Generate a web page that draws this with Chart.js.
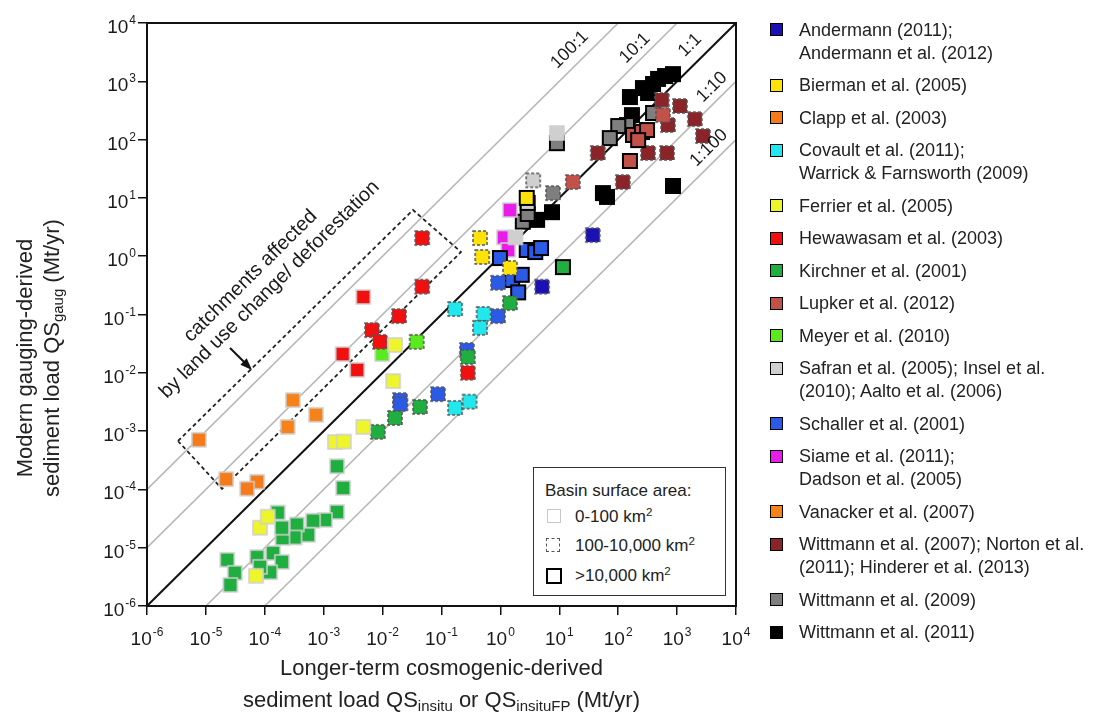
<!DOCTYPE html>
<html>
<head>
<meta charset="utf-8">
<script src="https://cdn.jsdelivr.net/npm/chart.js@4.4.1/dist/chart.umd.min.js"></script>
<style>
  body { margin: 0; background: #fff; font-family: "Liberation Sans", Arial, sans-serif; color: #222; }
  #wrap { position: relative; width: 1102px; height: 718px; overflow: hidden; }
  canvas { position: absolute; left: 0; top: 0; }
  sub { font-size: 0.68em; vertical-align: -0.3em; line-height: 0; }
  sup { font-size: 0.68em; vertical-align: 0.55em; line-height: 0; }
  .xt { position: absolute; left: 147px; width: 589px; top: 652px; text-align: center; font-size: 22px; line-height: 32px; }
  .yt { position: absolute; left: -212px; top: 331px; width: 500px; height: 54px; text-align: center;
        font-size: 22px; line-height: 27px; transform: rotate(-90deg); }
  #legend { position: absolute; left: 770px; top: 18.5px; font-size: 18px; line-height: 23px; }
  #legend .row { display: flex; margin-bottom: 9.5px; }
  #legend .sw { width: 11px; height: 11px; border: 1.5px solid #000; margin-top: 4.5px; margin-right: 16px; flex: none; }
  #basin { position: absolute; left: 533px; top: 467px; width: 191px; height: 127px; border: 1.5px solid #333;
           background: #fff; font-size: 17px; line-height: 24px; }
  #basin div { position: absolute; }
  #basin .sq { width: 12px; height: 12px; background: #fff; }
</style>
</head>
<body>
<div id="wrap">
  <canvas id="chart" width="1102" height="718"></canvas>
  <div class="xt">Longer-term cosmogenic-derived<br>sediment load QS<sub>insitu</sub> or QS<sub>insituFP</sub> (Mt/yr)</div>
  <div class="yt">Modern gauging-derived<br>sediment load QS<sub>gaug</sub> (Mt/yr)</div>
  <div id="legend"></div>
  <div id="basin">
    <div style="left:11px;top:11px">Basin surface area:</div>
    <div class="sq" style="left:13px;top:41px;border:1.5px solid #c8c8c8"></div>
    <div style="left:41px;top:37px">0-100 km<sup>2</sup></div>
    <div class="sq" style="left:12px;top:70px;border:1.5px dashed #555"></div>
    <div style="left:41px;top:66px">100-10,000 km<sup>2</sup></div>
    <div class="sq" style="left:12px;top:100px;border:2px solid #000"></div>
    <div style="left:41px;top:96px">&gt;10,000 km<sup>2</sup></div>
  </div>
</div>
<script>
// axis ticks (powers of ten) and reference ratio lines
const tickPowers = [-6, -5, -4, -3, -2, -1, 0, 1, 2, 3, 4];
const ratios = [100, 10, 1, 0.1, 0.01];
const ratioLabels = ["100:1", "10:1", "1:1", "1:10", "1:100"];

// points: [cosmogenic QS, gauged QS, basin class (0: 0-100, 1: 100-10,000, 2: >10,000 km2)]
const andermann = [[37, 2.3, 1], [5.1, 0.30, 1]];
const bierman = [[0.45, 2.05, 1], [0.49, 0.97, 1], [2.8, 10, 2], [1.45, 0.63, 1]];
const clapp = [[7.6e-6, 7.1e-4, 0], [2.2e-5, 1.5e-4, 0], [7.4e-5, 1.35e-4, 0], [5.0e-5, 1.03e-4, 0]];
const covault = [[0.17, 0.124, 1], [0.52, 0.102, 1], [0.45, 0.059, 1], [0.17, 0.0025, 1], [0.30, 0.0032, 1]];
const ferrier = [[0.0162, 0.030, 0], [0.0151, 0.0072, 0], [0.0047, 0.00118, 0], [0.00155, 6.5e-4, 0],
  [0.0022, 6.6e-4, 0], [8.3e-5, 2.2e-5, 0], [1.12e-4, 3.4e-5, 0], [7.1e-5, 3.3e-6, 0]];
const hewawasam = [[0.047, 2.05, 1], [0.047, 0.30, 1], [0.0047, 0.20, 0], [0.019, 0.094, 1], [0.0066, 0.054, 1],
  [0.009, 0.034, 1], [0.0021, 0.021, 0], [0.0037, 0.0112, 0], [0.28, 0.0100, 1]];
const kirchner = [[11.5, 0.65, 2], [1.45, 0.157, 1], [0.28, 0.0187, 1], [0.043, 0.0026, 1], [0.0162, 0.00168, 1],
  [0.0083, 0.00097, 1], [0.00168, 2.5e-4, 0], [0.00214, 1.06e-4, 0], [0.00168, 4.1e-5, 0], [0.00105, 3.0e-5, 0],
  [6.6e-4, 2.9e-5, 0], [5.4e-4, 1.66e-5, 0], [3.5e-4, 2.5e-5, 0], [3.2e-4, 1.5e-5, 0], [2.0e-4, 1.47e-5, 0],
  [1.66e-4, 4.0e-5, 0], [1.95e-4, 2.2e-5, 0], [1.38e-4, 8.1e-6, 0], [1.95e-4, 5.7e-6, 0], [1.23e-4, 3.8e-6, 0],
  [7.4e-5, 6.9e-6, 0], [8.3e-5, 4.7e-6, 0], [2.3e-5, 6.2e-6, 0], [3.1e-5, 3.7e-6, 0], [2.6e-5, 2.3e-6, 0]];
const lupker = [[178, 120, 2], [253, 135, 2], [309, 146, 2], [218, 98, 2], [158, 43, 2], [17, 18.7, 1], [575, 263, 1]];
const meyer = [[0.038, 0.034, 1], [0.0098, 0.021, 0]];
const safran = [[9.1, 130, 0], [3.6, 20, 1], [2.9, 8.2, 2], [1.8, 2.1, 0]];
const schaller = [[2.8, 1.28, 2], [3.9, 1.18, 2], [4.9, 1.38, 2], [0.98, 0.93, 2], [1.58, 0.39, 2], [2.3, 0.48, 2],
  [2.0, 0.24, 2], [0.91, 0.35, 1], [0.91, 0.094, 1], [0.27, 0.0246, 1], [0.087, 0.0043, 1], [0.0197, 0.0034, 1],
  [0.02, 0.0029, 1]];
const siame = [[1.45, 6.2, 0], [1.15, 2.1, 0], [1.35, 1.28, 0]];
const vanacker = [[3.0e-4, 0.0034, 0], [7.4e-4, 0.0019, 0], [2.45e-4, 0.00118, 0]];
const wittmann2007 = [[550, 480, 1], [1120, 377, 1], [2000, 225, 1], [2750, 115, 1], [45, 59, 1], [321, 59, 1],
  [675, 59, 1], [120, 18.7, 1], [700, 178, 1]];
const wittmann2009 = [[390, 286, 2], [141, 178, 2], [100, 171, 2], [72, 106, 2], [9.1, 87, 2], [7.8, 12.1, 1],
  [2.4, 3.9, 2], [2.9, 5.3, 2]];
const wittmann2011 = [[850, 1330, 2], [624, 1230, 2], [474, 1100, 2], [390, 900, 2], [263, 767, 2], [321, 631, 2],
  [158, 537, 2], [171, 263, 2], [55, 12.1, 2], [64.5, 10.4, 2], [7.5, 5.7, 2], [4.2, 4.2, 2], [850, 16, 2]];

// catchments affected by land use change (polygon corners, data units)
const regionCorners = [[3.36e-6, 6.76e-4], [0.0328, 6.2], [0.214, 1.18], [1.88e-5, 1.02e-4]];

const studies = [
  { name: "Andermann (2011);<br>Andermann et al. (2012)", color: "#1a10b4", pts: andermann },
  { name: "Bierman et al. (2005)", color: "#ffe20a", pts: bierman },
  { name: "Clapp et al. (2003)", color: "#f47a1a", pts: clapp },
  { name: "Covault et al. (2011);<br>Warrick &amp; Farnsworth (2009)", color: "#22e8ee", pts: covault },
  { name: "Ferrier et al. (2005)", color: "#eef52a", pts: ferrier },
  { name: "Hewawasam et al. (2003)", color: "#f01010", pts: hewawasam },
  { name: "Kirchner et al. (2001)", color: "#1fae3f", pts: kirchner },
  { name: "Lupker et al. (2012)", color: "#c4504a", pts: lupker },
  { name: "Meyer et al. (2010)", color: "#5aeb1e", pts: meyer },
  { name: "Safran et al. (2005); Insel et al.<br>(2010); Aalto et al. (2006)", color: "#cfcfcf", pts: safran },
  { name: "Schaller et al. (2001)", color: "#2b5ae6", pts: schaller },
  { name: "Siame et al. (2011);<br>Dadson et al. (2005)", color: "#e81ee8", pts: siame },
  { name: "Vanacker et al. (2007)", color: "#f7821a", pts: vanacker },
  { name: "Wittmann et al. (2007); Norton et al.<br>(2011); Hinderer et al. (2013)", color: "#8a2428", pts: wittmann2007 },
  { name: "Wittmann et al. (2009)", color: "#7f7f7f", pts: wittmann2009 },
  { name: "Wittmann et al. (2011)", color: "#000000", pts: wittmann2011 }
];

// square marker images, one per colour and border kind
const iconCache = {};
function icon(color, kind) {
  const key = color + kind;
  if (iconCache[key]) return iconCache[key];
  const c = document.createElement("canvas");
  c.width = 18; c.height = 18;
  const g = c.getContext("2d");
  g.fillStyle = color;
  g.fillRect(2, 2, 14, 14);
  if (kind === 0) { g.strokeStyle = "#cfcfcf"; g.lineWidth = 1.5; }
  else if (kind === 1) { g.strokeStyle = "#555"; g.lineWidth = 1.5; g.setLineDash([3, 2]); }
  else { g.strokeStyle = "#000"; g.lineWidth = 2; }
  g.strokeRect(2, 2, 14, 14);
  iconCache[key] = c;
  return c;
}

// html legend
const legend = document.getElementById("legend");
studies.forEach(s => {
  const row = document.createElement("div");
  row.className = "row";
  row.innerHTML = '<div class="sw" style="background:' + s.color + '"></div><div>' + s.name + "</div>";
  legend.appendChild(row);
});

const pointSets = studies.map(s => ({
  label: s.name,
  data: s.pts.map(p => ({ x: p[0], y: p[1] })),
  pointStyle: c => { const p = s.pts[c.dataIndex]; return icon(s.color, p ? p[2] : 2); },
  pointRadius: 7,
  order: 0
}));

const lineSets = ratios.map(r => {
  const x0 = Math.max(1e-6, 1e-6 / r), x1 = Math.min(1e4, 1e4 / r);
  return {
    type: "line",
    data: [{ x: x0, y: r * x0 }, { x: x1, y: r * x1 }],
    borderColor: r === 1 ? "#111" : "#b8b8b8",
    borderWidth: r === 1 ? 2 : 1.6,
    pointRadius: 0, showLine: true, fill: false,
    order: 2
  };
});

const regionSet = {
  type: "line",
  data: regionCorners.concat([regionCorners[0]]).map(p => ({ x: p[0], y: p[1] })),
  borderColor: "#222", borderWidth: 1.8, borderDash: [4, 3],
  pointRadius: 0, showLine: true, fill: false, tension: 0,
  order: 1
};

const FONT = '"Liberation Sans", Arial, sans-serif';

function drawPow(ctx, exp, x, base, align) {
  ctx.font = "19px " + FONT;
  const w1 = ctx.measureText("10").width;
  ctx.font = "12px " + FONT;
  const w2 = ctx.measureText(exp).width;
  const total = w1 + 1 + w2;
  const left = align === "right" ? x - total : x - total / 2;
  ctx.textAlign = "left";
  ctx.textBaseline = "alphabetic";
  ctx.font = "19px " + FONT;
  ctx.fillText("10", left, base);
  ctx.font = "12px " + FONT;
  ctx.fillText(exp, left + w1 + 1, base - 9);
}

const overlay = {
  id: "overlay",
  afterDraw(chart) {
    const { ctx, chartArea: a } = chart;
    const xs = chart.scales.x, ys = chart.scales.y;
    ctx.save();
    ctx.strokeStyle = "#111";
    ctx.lineWidth = 2;
    ctx.strokeRect(a.left, a.top, a.right - a.left, a.bottom - a.top);

    ctx.fillStyle = "#1a1a1a";
    tickPowers.forEach(p => {
      drawPow(ctx, String(p), 136, ys.getPixelForValue(Math.pow(10, p)) + 10, "right");
      drawPow(ctx, String(p), xs.getPixelForValue(Math.pow(10, p)), a.bottom + 39, "center");
    });

    // slope of the 1:1 line on screen
    const ang = Math.atan2(ys.getPixelForValue(1) - ys.getPixelForValue(10),
                           xs.getPixelForValue(10) - xs.getPixelForValue(1));
    const labelAt = [[15, 3470], [193, 3700], [1660, 4170], [3900, 790], [3470, 72]];
    ctx.font = "18px " + FONT;
    ctx.textAlign = "center";
    ctx.textBaseline = "middle";
    ratioLabels.forEach((t, i) => {
      ctx.save();
      ctx.translate(xs.getPixelForValue(labelAt[i][0]), ys.getPixelForValue(labelAt[i][1]));
      ctx.rotate(-ang);
      ctx.fillText(t, 0, 0);
      ctx.restore();
    });

    // region note
    ctx.save();
    ctx.translate(xs.getPixelForValue(8.3e-5), ys.getPixelForValue(0.35));
    ctx.rotate(-ang);
    ctx.font = "20px " + FONT;
    ctx.fillText("catchments affected", -2, -11.5);
    ctx.fillText("by land use change/ deforestation", 2, 11.5);
    ctx.restore();

    // arrow
    const x0 = xs.getPixelForValue(2.57e-5), y0 = ys.getPixelForValue(0.0266);
    const x1 = xs.getPixelForValue(6.07e-5), y1 = ys.getPixelForValue(0.0112);
    const d = Math.atan2(y1 - y0, x1 - x0);
    ctx.strokeStyle = "#111";
    ctx.fillStyle = "#111";
    ctx.lineWidth = 2;
    ctx.beginPath();
    ctx.moveTo(x0, y0);
    ctx.lineTo(x1 - 8 * Math.cos(d), y1 - 8 * Math.sin(d));
    ctx.stroke();
    ctx.beginPath();
    ctx.moveTo(x1, y1);
    ctx.lineTo(x1 - 12 * Math.cos(d) + 4.5 * Math.sin(d), y1 - 12 * Math.sin(d) - 4.5 * Math.cos(d));
    ctx.lineTo(x1 - 12 * Math.cos(d) - 4.5 * Math.sin(d), y1 - 12 * Math.sin(d) + 4.5 * Math.cos(d));
    ctx.closePath();
    ctx.fill();
    ctx.restore();
  }
};

function logAxis(fit) {
  return {
    type: "logarithmic",
    min: 1e-6,
    max: 1e4,
    afterBuildTicks: s => { s.ticks = tickPowers.map(p => ({ value: Math.pow(10, p) })); },
    afterFit: fit,
    ticks: { display: false },
    grid: { drawOnChartArea: false, color: "#111", lineWidth: 1.5, tickLength: 9 },
    border: { color: "#111", width: 2 }
  };
}

new Chart(document.getElementById("chart"), {
  type: "scatter",
  data: { datasets: pointSets.concat([regionSet], lineSets) },
  options: {
    responsive: false,
    animation: false,
    layout: { padding: { left: 0, top: 23, right: 366, bottom: 0 } },
    plugins: { legend: { display: false }, tooltip: { enabled: false } },
    scales: {
      x: logAxis(s => { s.height = 112; }),
      y: logAxis(s => { s.width = 147; })
    }
  },
  plugins: [overlay]
});
</script>
</body>
</html>
